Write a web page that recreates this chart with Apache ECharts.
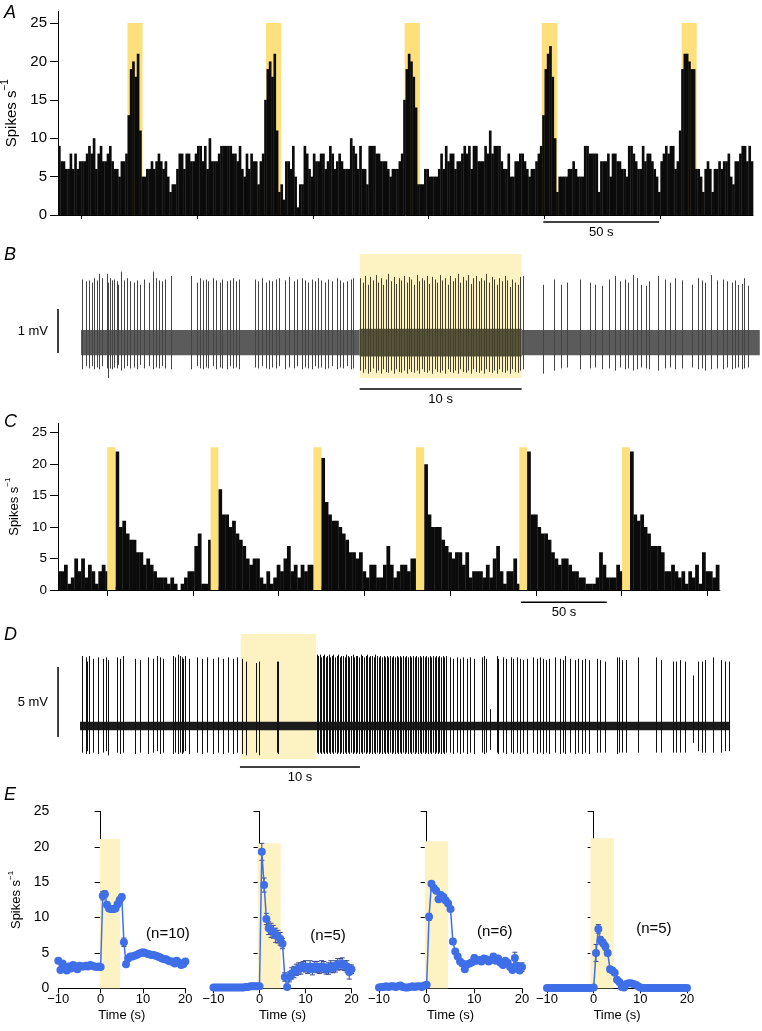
<!DOCTYPE html>
<html><head><meta charset="utf-8">
<script src="https://cdn.jsdelivr.net/npm/echarts@6/dist/echarts.min.js"></script>
<style>html,body{margin:0;padding:0;background:#fff}#c{width:762px;height:1031px}</style>
</head><body><div id="c"></div>
<script>
// ---------------- DATA ----------------
// Panel A: firing-rate histogram, 1 s bins (spikes/s)
const binA = 1, startA = 0;
const histA = [
9,7,7,6,6,8,6,8,6,7, 7,7,8,9,8,10,6,8,9,7, 7,8,9,7,6,6,5,7,7,8,
13,19,20,18,21,11,5,5,6,6, 7,6,7,8,7,6,7,5,3,4, 4,6,8,8,6,8,8,7,7,8,
9,9,7,9,6,10,7,7,7,8, 9,9,9,9,9,8,8,7,9,6, 5,8,6,8,7,7,4,7,8,15,
19,20,18,21,11,3,4,2,7,7, 6,9,5,1,4,4,9,8,6,5, 8,7,7,8,8,6,7,9,8,6,
7,8,7,6,6,6,10,9,8,6, 9,6,6,4,9,9,9,8,8,7, 7,7,6,5,6,6,6,7,8,15,
19,21,20,18,14,4,4,4,6,6, 5,5,5,5,6,8,6,9,7,8, 8,6,7,7,8,9,8,9,6,9,
9,7,7,7,9,8,11,8,9,9, 9,7,6,6,8,5,5,7,7,8, 8,7,6,5,6,6,7,8,9,13,
19,21,22,18,10,3,5,5,5,5, 6,6,7,6,5,5,5,9,9,8, 8,8,8,3,7,7,7,8,5,8,
8,7,7,6,6,5,9,9,8,7, 6,6,9,7,8,8,7,6,5,3, 7,8,9,8,9,9,6,7,11,19,
21,21,20,19,19,6,6,5,3,6, 7,6,3,6,6,7,6,7,7,8, 5,4,7,7,8,9,9,7,9,7
];
const bandsA = [[30,36.5],[89.8,96.3],[149.6,156.2],[208.8,215.5],[269.2,275.7]];
const bandTopA = 25;
const ticksAx = [10,60,110,160,210,260];
const ticksY = [0,5,10,15,20,25];

// Panel C: firing-rate histogram, 2 s bins
const binC = 2, startC = -0.5;
const histC = [
3,3,4,1,2,5,3,5,2,4, 3,1,3,4,3,0.5,0.5,22,10,11, 9,8,8,6,6,4,5,4,3,2,
2,2,1,2,1,0,1,2,3,3, 7,9,1,1,8,0.5,0.5,16,12,12, 10,11,9,8,7,5,4,5,5,2,
1,3,1,2,4,3,5,7,3,4, 2,4,3,4,4,0.5,0.5,21,14,12, 11,11,10,9,8,6,6,5,6,3,
2,4,4,2,2,4,7,4,2,3, 4,4,3,5,5,0.5,0.5,20,12,10, 10,10,8,7,6,5,6,6,4,6,
2,3,3,3,2,4,2,5,7,3, 1,3,3,5,1,0.5,0.5,22,12,12, 10,9,9,8,6,5,4,5,5,4,
3,3,2,2,1,1,1,2,6,4, 2,2,2,4,3,0.5,0.5,22,12,11, 12,10,9,7,7,7,6,3,3,4,
3,2,3,1,3,2,4,1,6,3, 3,2,4
];
const bandsC = [[28.7,33.5],[89,93.5],[148.9,153.5],[208.7,213.5],[269,273.5],[328.9,333.5]];
const bandTopC = 22.7;
const ticksCx = [28.7,78.7,128.7,178.7,228.7,278.7,328.7,378.7];

// Panel B: extracellular trace (mV), spikes [time s, peak, trough]
const traceB = [0, 41.9];
const noiseB = [-0.3, 0.27];
const bandB = [17.2, 27.2, -0.82, 2.0];
const spikesB = [
[0.04,1.42,-0.62],[0.29,1.38,-0.55],[0.51,1.40,-0.60],[0.68,1.35,-0.55],[0.82,1.45,-0.62],[0.99,1.40,-0.58],[1.13,1.55,-0.62],[1.30,1.45,-0.55],[1.58,1.55,-0.60],[1.65,1.35,-0.82],
[1.79,1.45,-0.60],[1.93,1.40,-0.62],[2.06,1.42,-0.58],[2.20,1.38,-0.60],[2.30,1.30,-0.52],[2.47,1.60,-0.65],[2.65,1.40,-0.60],[2.82,1.45,-0.55],[3.02,1.38,-0.60],[3.29,1.35,-0.58],
[3.46,1.40,-0.62],[3.64,1.30,-0.52],[3.89,1.42,-0.60],[4.18,1.35,-0.55],[4.44,1.60,-0.62],[4.63,1.45,-0.58],[4.79,1.40,-0.60],[5.02,1.38,-0.55],[5.21,1.42,-0.60],[5.53,1.50,-0.62],
[6.79,1.50,-0.62],[7.16,1.35,-0.55],[7.37,1.45,-0.60],[7.51,1.40,-0.62],[7.70,1.42,-0.58],[7.86,1.38,-0.60],[8.13,1.45,-0.55],[8.31,1.40,-0.62],[8.58,1.35,-0.58],[8.72,1.42,-0.60],
[9.01,1.38,-0.62],[9.22,1.40,-0.55],[9.40,1.45,-0.60],[9.57,1.38,-0.58],[9.73,1.42,-0.62],
[10.72,1.42,-0.58],[10.95,1.38,-0.60],[11.15,1.45,-0.55],[11.40,1.35,-0.60],[11.63,1.40,-0.62],[11.81,1.38,-0.58],[12.06,1.42,-0.60],[12.24,1.45,-0.55],[12.59,1.40,-0.62],[12.86,1.48,-0.58],
[13.15,1.38,-0.60],[13.31,1.42,-0.55],[13.62,1.45,-0.62],[13.85,1.40,-0.58],[13.99,1.35,-0.60],[14.26,1.42,-0.62],[14.42,1.38,-0.55],[14.61,1.45,-0.60],[14.81,1.40,-0.58],[15.06,1.35,-0.62],
[15.27,1.42,-0.60],[15.47,1.38,-0.55],[15.78,1.45,-0.62],[15.99,1.40,-0.58],[16.15,1.35,-0.60],[16.40,1.38,-0.55],[16.65,1.42,-0.62],[16.81,1.45,-0.60],
[17.25,1.45,-0.65],[17.42,1.35,-0.70],[17.55,1.50,-0.62],[17.72,1.30,-0.72],[17.86,1.48,-0.68],[18.05,1.40,-0.60],[18.20,1.52,-0.70],[18.33,1.35,-0.65],[18.50,1.45,-0.72],[18.66,1.30,-0.62],
[18.80,1.42,-0.68],[18.98,1.55,-0.70],[19.12,1.38,-0.65],[19.30,1.48,-0.72],[19.45,1.32,-0.62],[19.60,1.45,-0.68],[19.78,1.40,-0.70],[19.92,1.50,-0.65],[20.10,1.35,-0.72],[20.24,1.48,-0.62],
[20.40,1.42,-0.68],[20.55,1.30,-0.70],[20.72,1.52,-0.65],[20.88,1.38,-0.72],[21.02,1.45,-0.62],[21.20,1.40,-0.68],[21.35,1.50,-0.70],[21.50,1.32,-0.65],[21.68,1.48,-0.72],[21.84,1.42,-0.62],
[22.00,1.35,-0.68],[22.15,1.52,-0.70],[22.30,1.40,-0.65],[22.48,1.45,-0.72],[22.63,1.30,-0.62],[22.80,1.50,-0.68],[22.95,1.38,-0.70],[23.10,1.45,-0.65],[23.28,1.55,-0.72],[23.42,1.35,-0.62],
[23.60,1.48,-0.68],[23.75,1.40,-0.70],[23.90,1.52,-0.65],[24.08,1.32,-0.72],[24.22,1.45,-0.62],[24.40,1.50,-0.68],[24.55,1.38,-0.70],[24.70,1.45,-0.65],[24.88,1.40,-0.72],[25.02,1.55,-0.62],
[25.20,1.35,-0.68],[25.35,1.48,-0.70],[25.50,1.42,-0.65],[25.68,1.30,-0.72],[25.82,1.45,-0.62],[26.00,1.38,-0.68],[26.15,1.50,-0.70],[26.30,1.40,-0.65],[26.48,1.25,-0.72],[26.62,1.42,-0.62],
[26.80,1.35,-0.68],[26.95,1.30,-0.70],[27.12,1.48,-0.65],
[27.31,1.50,-0.62],[28.54,1.30,-0.72],[29.22,1.42,-0.65],[29.61,1.30,-0.60],[29.98,1.35,-0.58],[30.80,1.42,-0.62],[31.42,1.35,-0.60],[31.73,1.30,-0.58],[32.18,1.28,-0.62],[32.57,1.42,-0.60],
[32.96,1.50,-0.65],[33.27,1.38,-0.58],[33.58,1.42,-0.62],[33.79,1.35,-0.60],[34.05,1.52,-0.65],[34.30,1.45,-0.62],[34.55,1.30,-0.58],[34.86,1.28,-0.60],[35.08,1.38,-0.62],[35.64,1.50,-0.65],
[36.05,1.42,-0.60],[36.36,1.35,-0.58],[36.67,1.45,-0.62],[37.08,1.40,-0.60],[37.70,1.30,-0.58],[38.11,1.45,-0.62],[38.31,1.40,-0.60],[38.52,1.35,-0.65],[38.89,1.52,-0.62],[39.28,1.40,-0.60],
[39.65,1.42,-0.62],[39.86,1.38,-0.58],[40.17,1.35,-0.62],[40.37,1.40,-0.60],[40.57,1.30,-0.58],[40.78,1.32,-0.62],[40.95,1.45,-0.60],[41.19,1.28,-0.58]
];

// Panel D: intracellular-like trace (mV), spikes [time s, peak, trough]
const traceD = [0, 54.17];
const noiseD = [-0.3, 0.3];
const bandD = [13.39, 19.67, -2.36, 6.57];
const spikesD = [
[0.14,5.0,-1.9],[0.50,4.9,-2.0],[0.61,4.6,-1.8],[0.78,5.0,-2.0],[1.11,4.8,-1.9],[1.47,4.9,-2.0],[1.94,4.8,-1.9],[2.17,4.9,-1.8],[2.36,4.7,-2.1],[3.11,4.9,-1.9],
[3.33,4.8,-2.0],[3.56,5.0,-1.9],[4.58,4.8,-2.0],[5.00,4.7,-1.9],[5.69,4.9,-2.0],[6.11,4.8,-1.9],[6.39,5.0,-1.8],[6.67,4.9,-2.0],[6.89,4.8,-1.9],[7.72,5.0,-2.0],
[7.92,4.9,-1.9],[8.19,5.1,-2.0],[8.33,5.0,-1.9],[8.47,4.9,-2.0],[8.61,4.8,-1.9],[8.75,5.0,-1.8],[9.11,4.8,-2.0],[9.72,4.9,-1.9],[10.14,4.8,-2.0],[10.56,4.9,-1.9],
[11.11,4.8,-2.0],[11.53,4.9,-1.9],[11.89,4.8,-2.0],[12.36,4.9,-1.9],[12.78,4.8,-2.0],[13.11,4.9,-1.9],[13.47,4.8,-2.0],
[13.81,4.6,-2.1],[14.67,4.5,-1.9],[14.94,4.6,-2.1],[16.39,4.6,-1.9],[16.53,4.6,-2.0],
[19.72,5.1,-1.9],[19.85,5.0,-2.0],[19.98,5.1,-1.9],[20.10,4.9,-2.0],[20.21,5.0,-1.9],[20.36,5.1,-2.0],[20.48,4.9,-1.9],[20.62,5.0,-2.0],[20.74,5.1,-1.9],[20.83,4.9,-2.0],
[20.97,5.0,-1.9],[21.12,5.1,-2.0],[21.25,4.9,-1.9],[21.38,5.0,-2.0],[21.50,5.1,-1.9],[21.66,4.9,-2.0],[21.78,5.0,-1.9],[21.90,5.0,-2.0],[22.05,4.9,-1.9],[22.18,5.1,-2.0],
[22.30,5.0,-1.9],[22.44,4.9,-2.0],[22.60,5.0,-1.9],[22.72,5.1,-2.0],[22.86,4.9,-1.9],[22.98,5.0,-2.0],[23.12,5.0,-1.9],[23.27,4.9,-2.0],[23.40,5.1,-1.9],[23.52,5.0,-2.0],
[23.68,4.9,-1.9],[23.80,5.0,-2.0],[23.93,5.1,-1.9],[24.08,4.9,-2.0],[24.20,5.0,-1.9],[24.35,5.0,-2.0],[24.48,4.9,-1.9],[24.62,5.1,-2.0],[24.75,5.0,-1.9],[24.90,4.9,-2.0],
[25.02,5.0,-1.9],[25.16,4.9,-2.0],[25.30,5.0,-1.9],[25.42,4.9,-2.0],[25.58,5.0,-1.9],[25.70,4.9,-2.0],[25.84,5.0,-1.9],[25.97,4.9,-2.0],[26.10,5.0,-1.9],[26.26,4.9,-2.0],
[26.38,5.0,-1.9],[26.52,4.9,-2.0],[26.66,5.0,-1.9],[26.78,4.9,-2.0],[26.92,5.0,-1.9],[27.06,4.9,-2.0],[27.20,5.0,-1.9],[27.34,4.9,-2.0],[27.46,5.0,-1.9],[27.60,4.9,-2.0],
[27.75,5.0,-1.9],[27.88,4.9,-2.0],[28.02,5.0,-1.9],[28.16,4.9,-2.0],[28.30,5.0,-1.9],[28.44,4.9,-2.0],[28.56,5.0,-1.9],[28.72,4.9,-2.0],[28.86,5.0,-1.9],[29.00,4.9,-2.0],
[29.14,5.0,-1.9],[29.26,4.9,-2.0],[29.40,5.0,-1.9],[29.55,4.9,-2.0],[29.68,5.0,-1.9],[29.80,4.9,-2.0],[29.95,5.0,-1.9],[30.08,4.9,-2.0],[30.22,5.0,-1.9],[30.36,4.9,-2.0],
[30.50,5.0,-1.9],
[30.83,4.9,-1.9],[31.11,4.8,-2.0],[31.39,4.9,-1.9],[31.67,4.8,-2.0],[31.94,4.9,-1.9],[32.28,4.8,-2.0],[32.50,4.9,-1.9],[32.83,4.8,-2.0],[33.47,4.9,-1.9],[33.67,5.0,-2.0],
[33.83,4.8,-1.9],[34.17,1.2,-1.7],[34.72,5.0,-1.9],[34.86,4.8,-2.0],[35.28,4.9,-1.9],[35.50,4.8,-2.0],[35.89,4.9,-1.9],[36.11,4.8,-2.0],[36.39,4.9,-1.9],[36.67,4.8,-2.0],
[36.94,4.7,-1.9],[37.22,4.8,-2.0],[37.78,4.9,-1.9],[38.06,4.8,-2.0],[38.33,4.9,-1.9],[38.61,4.8,-2.0],[38.81,4.7,-1.9],[39.08,4.8,-2.0],[39.58,4.9,-1.9],[40.00,4.8,-2.0],
[40.22,4.7,-1.9],[40.42,5.0,-2.0],[40.83,4.8,-1.9],[41.25,4.7,-2.0],[41.53,4.8,-1.9],[41.81,4.7,-2.0],[42.08,4.8,-1.9],[42.44,4.7,-2.0],[43.06,4.8,-1.9],[43.33,4.7,-1.9],
[43.75,4.6,-1.9],[44.72,4.9,-2.0],[44.94,4.9,-1.9],[45.14,4.7,-1.9],[45.47,4.7,-1.9],[46.47,4.9,-1.9],[48.00,4.9,-1.9],[48.42,4.7,-1.9],[49.39,4.6,-1.9],[49.64,4.6,-1.9],
[50.00,4.7,-1.9],[50.42,4.6,-1.9],[51.11,3.6,-1.2],[51.53,4.6,-1.8],[51.81,4.6,-1.9],[52.08,4.7,-1.9],[52.72,4.9,-1.9],[53.39,4.7,-1.9],[53.75,4.6,-1.8],[54.11,4.6,-1.8]
];

// Panel E: mean rate (spikes/s) in 0.5 s bins, +/- error
const timesE = [-10,-9.5,-9,-8.5,-8,-7.5,-7,-6.5,-6,-5.5,-5,-4.5,-4,-3.5,-3,-2.5,-2,-1.5,-1,-0.5,
0,0.5,1,1.5,2,2.5,3,3.5,4,4.5,5,5.5,6,6.5,7,7.5,8,8.5,9,9.5,10,10.5,11,11.5,12,12.5,13,13.5,14,14.5,15,15.5,16,16.5,17,17.5,18,18.5,19,19.5,20];
const e1 = [3.9,2.6,3.5,3.1,2.5,3.1,2.8,3.3,3.1,2.7, 3.2,3.1,3.1,3.2,3.1,3.3,3.2,3.1,3.0,3.1, 3.0,
13.1,13.3,11.8,11.3,11.2,11.2,11.3,11.9,12.5,12.9, 6.5,3.4,4.2,4.5,4.5,4.6,4.7,4.9,5.0,5.1,
5.0,4.9,4.8,4.7,4.7,4.6,4.5,4.4,4.2,4.1, 4.1,3.9,3.8,3.8,3.5,3.9,3.6,3.3,3.4,3.8];
const e1err = [0.3,0.3,0.3,0.3,0.3,0.3,0.3,0.3,0.3,0.3, 0.3,0.3,0.3,0.3,0.3,0.3,0.3,0.3,0.3,0.3, 0.3,
0.6,0.5,0.4,0.4,0.4,0.4,0.4,0.4,0.4,0.4, 0.6,0.3,0.3,0.3,0.3,0.3,0.3,0.3,0.3,0.3,
0.3,0.3,0.3,0.3,0.3,0.3,0.3,0.3,0.3,0.3, 0.3,0.3,0.3,0.3,0.3,0.3,0.3,0.3,0.3,0.3];
const e2 = [0.1,0.1,0.1,0.1,0.1,0.1,0.1,0.1,0.1,0.1, 0.1,0.1,0.1,0.1,0.2,0.2,0.3,0.3,0.3,0.3, 0.3,
19.3,14.6,9.8,8.5,8.2,8.0,7.5,7.3,7.0,6.3, 1.6,0.2,1.6,2.1,2.3,2.6,2.8,2.8,3.1,3.1,
2.8,3.1,2.7,3.1,3.0,2.8,3.1,3.0,2.7,2.8, 3.1,2.9,3.1,3.4,3.4,3.5,3.2,3.1,2.3,2.7];
const e2err = [0.05,0.05,0.05,0.05,0.05,0.05,0.05,0.05,0.05,0.05, 0.05,0.05,0.05,0.05,0.1,0.1,0.1,0.1,0.1,0.1, 0.2,
1.2,1.0,0.8,0.9,1.0,0.9,1.0,0.9,0.9,0.7, 0.6,0.3,0.7,0.8,0.8,0.8,0.8,0.8,0.7,0.8,
0.7,0.8,0.8,0.7,0.8,0.7,0.8,0.8,0.7,0.8, 0.8,0.7,0.8,0.8,0.8,0.8,0.7,0.8,1.0,0.6];
const e3 = [0.1,0.2,0.2,0.3,0.2,0.3,0.3,0.2,0.3,0.4, 0.2,0.1,0.1,0.2,0.3,0.2,0.3,0.3,0.2,0.4, 0.5,
10.1,14.8,14.2,13.8,12.6,13.2,12.9,12.4,12.0,11.2, 6.6,5.2,4.5,3.8,3.5,2.7,3.4,3.5,3.7,4.3,
3.9,4.0,3.8,4.2,4.1,3.8,4.0,4.5,3.9,4.2, 3.6,3.3,3.9,3.6,3.0,2.6,4.3,3.2,2.5,3.0];
const e3err = [0.05,0.05,0.05,0.05,0.05,0.05,0.05,0.05,0.05,0.05, 0.05,0.05,0.05,0.05,0.05,0.05,0.05,0.05,0.05,0.05, 0.1,
0.5,0.3,0.3,0.3,0.3,0.3,0.3,0.3,0.3,0.3, 0.4,0.3,0.3,0.3,0.3,0.3,0.3,0.3,0.3,0.4,
0.3,0.3,0.3,0.3,0.3,0.3,0.3,0.4,0.3,0.3, 0.3,0.3,0.3,0.3,0.3,0.3,0.8,0.4,0.4,0.6];
const e4 = [0.05,0.05,0.05,0.05,0.05,0.05,0.05,0.05,0.05,0.05, 0.05,0.05,0.05,0.05,0.05,0.05,0.05,0.05,0.05,0.05, 0.1,
5.0,8.4,6.8,6.4,5.9,5.0,2.7,2.5,2.2,1.2, 0.9,0.2,0.1,0.6,0.7,0.7,0.6,0.5,0.3,0.1,
0.05,0.05,0.05,0.05,0.05,0.05,0.05,0.05,0.05,0.05, 0.05,0.05,0.05,0.05,0.05,0.05,0.05,0.05,0.05,0.05];
const e4err = [0.05,0.05,0.05,0.05,0.05,0.05,0.05,0.05,0.05,0.05, 0.05,0.05,0.05,0.05,0.05,0.05,0.05,0.05,0.05,0.05, 0.1,
1.2,0.6,0.5,0.5,0.5,0.4,0.4,0.3,0.3,0.2, 0.2,0.1,0.1,0.2,0.2,0.2,0.2,0.1,0.1,0.1,
0.05,0.05,0.05,0.05,0.05,0.05,0.05,0.05,0.05,0.05, 0.05,0.05,0.05,0.05,0.05,0.05,0.05,0.05,0.05,0.05];
const bandsE = [[-0.2,4.6,21.1],[-0.4,4.6,20.5],[-0.4,4.5,20.8],[-0.7,4.3,21.2]];
const nLabels = ['(n=10)','(n=5)','(n=6)','(n=5)'];
const ticksEx = ['−10','0','10','20'];

// Annotations: scale bars (data units of each panel)
const scaleA = {bar:[209.5,-0.9,259.5,-0.9], text:'50 s'};
const scaleC = {bar:[270,-1.96,320,-1.96], text:'50 s'};
const scaleB = {bar:[17.2,-1.07,27.2,-1.07], text:'10 s'};
const scaleBv = {bar:[-1.42,-0.25,-1.42,0.75], text:'1 mV'};
const scaleD = {bar:[13.33,-2.93,23.33,-2.93], text:'10 s'};
const scaleDv = {bar:[-1.83,-0.79,-1.83,4.21], text:'5 mV'};
const nLabelPos = [[15.9,7.7],[14.9,7.4],[14.3,8.0],[12.9,8.4]];

// ---------------- STYLE / LAYOUT ----------------
const FONT = '"Liberation Sans", Arial, Helvetica, sans-serif';
const BAR = '#0b0b0b', YEL = '#fde07c', PALE = '#fdf2c2', BLUE = '#3f6fe8';
const grids = [
  {left:58, top:11.5, width:695, height:203.5},     // A
  {left:32.4, top:249.6, width:729, height:154},    // B
  {left:58, top:423.3, width:662, height:166.7},    // C
  {left:32, top:628, width:708, height:161},        // D
  {left:58.3, top:811.5, width:127, height:176.8},  // E1
  {left:213.5, top:811.5, width:138, height:176.8}, // E2
  {left:379, top:811.5, width:143, height:176.8},   // E3
  {left:547, top:811.5, width:140, height:176.8}    // E4
].map(g => Object.assign({outerBoundsMode:'none', containLabel:false}, g));

const axLine = {show:true, lineStyle:{color:'#000', width:1}};
function supName(fs) {
  return {
    name: '{b|Spikes s}{s|−1}', nameLocation:'middle', nameRotate:90,
    nameTextStyle:{rich:{
      b:{fontSize:fs, fontFamily:FONT, color:'#000', lineHeight:fs+4, verticalAlign:'bottom'},
      s:{fontSize:Math.round(fs*0.65), fontFamily:FONT, color:'#000', lineHeight:fs+4, verticalAlign:'top'}
    }}
  };
}
const xAxes = [
  {gridIndex:0, type:'value', min:0, max:300, axisLine:axLine, splitLine:{show:false},
   axisTick:{show:true, length:4, customValues:ticksAx, lineStyle:{color:'#000'}}, axisLabel:{show:false}},
  {gridIndex:1, type:'value', min:-3, max:42, show:false},
  {gridIndex:2, type:'value', min:0, max:386, axisLine:axLine, splitLine:{show:false},
   axisTick:{show:true, length:6, customValues:ticksCx, lineStyle:{color:'#000'}}, axisLabel:{show:false}},
  {gridIndex:3, type:'value', min:-4, max:55, show:false}
];
const yAxes = [
  Object.assign({gridIndex:0, type:'value', min:0, max:26.5, axisLine:axLine, splitLine:{show:false},
   axisTick:{show:true, length:8, customValues:ticksY, lineStyle:{color:'#000'}},
   axisLabel:{customValues:ticksY, fontSize:15, fontFamily:FONT, color:'#000', margin:11}, nameGap:34}, supName(15)),
  {gridIndex:1, type:'value', min:-1.4, max:2.1, show:false},
  Object.assign({gridIndex:2, type:'value', min:0, max:26.5, axisLine:axLine, splitLine:{show:false},
   axisTick:{show:true, length:8, customValues:ticksY, lineStyle:{color:'#000'}},
   axisLabel:{customValues:ticksY, fontSize:13.5, fontFamily:FONT, color:'#000', margin:11}, nameGap:37}, supName(13)),
  {gridIndex:3, type:'value', min:-4.5, max:7, show:false}
];
for (let k = 0; k < 4; k++) {
  xAxes.push({gridIndex:4+k, type:'value', min:-10, max:20, interval:10, axisLine:axLine, splitLine:{show:false},
    axisTick:{show:true, length:5, lineStyle:{color:'#000'}},
    axisLabel:{fontSize:13, fontFamily:FONT, color:'#000', margin:5, formatter:v => ticksEx[(v+10)/10]},
    name:'Time (s)', nameLocation:'middle', nameGap:21, nameTextStyle:{fontSize:13, fontFamily:FONT, color:'#000'}});
  const ya = {gridIndex:4+k, type:'value', min:0, max:25, interval:5, axisLine:axLine, splitLine:{show:false},
    axisTick:{show:true, length:6, lineStyle:{color:'#000'}},
    axisLabel:{show:k===0, fontSize:14, fontFamily:FONT, color:'#000', margin:9}};
  if (k === 0) Object.assign(ya, supName(13), {nameGap:35});
  yAxes.push(ya);
}

// ---------------- RENDERERS ----------------
function rectItem(fill, extraW) {
  return function (params, api) {
    const p = api.coord([api.value(0), api.value(3)]);
    const q = api.coord([api.value(1), api.value(2)]);
    return {type:'rect', shape:{x:p[0], y:p[1], width:q[0]-p[0]+(extraW||0), height:q[1]-p[1]}, style:{fill}};
  };
}
function custom(ax, data, renderItem, z, extra) {
  return Object.assign({type:'custom', coordinateSystem:'cartesian2d', xAxisIndex:ax, yAxisIndex:ax,
    data, renderItem, z, silent:true, animation:false}, extra||{});
}
function spikeItem(colorFn) {
  return function (params, api) {
    const t = api.value(0);
    const p = api.coord([t, api.value(1)]);
    const q = api.coord([t, api.value(2)]);
    const x = Math.round(p[0]) + 0.5;
    return {type:'line', shape:{x1:x, y1:p[1], x2:x, y2:q[1]}, style:{stroke:colorFn(t), lineWidth:1}};
  };
}
function segItem(width) {
  return function (params, api) {
    const p = api.coord([api.value(0), api.value(1)]);
    const q = api.coord([api.value(2), api.value(3)]);
    return {type:'line', shape:{x1:p[0], y1:p[1], x2:q[0], y2:q[1]}, style:{stroke:'#000', lineWidth:width}};
  };
}
function scaleSeries(ax, sb, vertical) {
  return custom(ax, [sb.bar], function (params, api) {
    const p = api.coord([api.value(0), api.value(1)]);
    const q = api.coord([api.value(2), api.value(3)]);
    const line = {type:'line', shape:{x1:p[0], y1:p[1], x2:q[0], y2:q[1]}, style:{stroke:'#000', lineWidth:1.5}};
    const txt = vertical
      ? {type:'text', x:p[0]-10, y:(p[1]+q[1])/2, style:{text:sb.text, fontSize:13, fontFamily:FONT, fill:'#000', align:'right', verticalAlign:'middle'}}
      : {type:'text', x:(p[0]+q[0])/2, y:p[1]+4, style:{text:sb.text, fontSize:13, fontFamily:FONT, fill:'#000', align:'center', verticalAlign:'top'}};
    return {type:'group', children:[line, txt]};
  }, 10);
}
function errItem(params, api) {
  const t = api.value(0);
  const a = api.coord([t, api.value(1)]);
  const b = api.coord([t, api.value(2)]);
  const st = {stroke:'#34488a', lineWidth:1};
  return {type:'group', children:[
    {type:'line', shape:{x1:a[0], y1:a[1], x2:b[0], y2:b[1]}, style:st},
    {type:'line', shape:{x1:a[0]-2.5, y1:a[1], x2:a[0]+2.5, y2:a[1]}, style:st},
    {type:'line', shape:{x1:b[0]-2.5, y1:b[1], x2:b[0]+2.5, y2:b[1]}, style:st}
  ]};
}

// ---------------- SERIES ----------------
const series = [];
// A
series.push(custom(0, bandsA.map(b => [b[0], b[1], 0, bandTopA]), rectItem(YEL), 1));
series.push(custom(0, histA.map((v,i) => [startA+i*binA, startA+(i+1)*binA, 0, v]), rectItem(BAR, 0.35), 2));
series.push(scaleSeries(0, scaleA, false));
// B
const inBandB = t => t >= bandB[0] && t <= bandB[1];
series.push(custom(1, [[bandB[0], bandB[1], bandB[2], bandB[3]]], rectItem(PALE), 1));
series.push(custom(1, [[traceB[0], bandB[0], noiseB[0], noiseB[1]], [bandB[1], traceB[1], noiseB[0], noiseB[1]]], rectItem('#5b5b5b'), 2));
series.push(custom(1, [[bandB[0], bandB[1], noiseB[0]-0.03, noiseB[1]+0.03]], rectItem('#56533a'), 2));
series.push(custom(1, spikesB, spikeItem(t => inBandB(t) ? '#45422b' : '#454545'), 3));
series.push(scaleSeries(1, scaleB, false));
series.push(scaleSeries(1, scaleBv, true));
// C
series.push(custom(2, histC.map((v,i) => [startC+i*binC, startC+(i+1)*binC, 0, v]), rectItem(BAR, 0.35), 1, {clip:true}));
series.push(custom(2, bandsC.map(b => [b[0], b[1], 0, bandTopC]), rectItem(YEL), 2));
series.push(scaleSeries(2, scaleC, false));
// D
series.push(custom(3, [[bandD[0], bandD[1], bandD[2], bandD[3]]], rectItem(PALE), 1));
series.push(custom(3, [[traceD[0], traceD[1], noiseD[0], noiseD[1]]], rectItem('#1c1c1c'), 2));
series.push(custom(3, spikesD, spikeItem(() => '#111111'), 3));
series.push(scaleSeries(3, scaleD, false));
series.push(scaleSeries(3, scaleDv, true));
// E
const eVals = [e1, e2, e3, e4], eErrs = [e1err, e2err, e3err, e4err];
for (let k = 0; k < 4; k++) {
  const ax = 4 + k;
  series.push(custom(ax, [[bandsE[k][0], bandsE[k][1], 0, bandsE[k][2]]], rectItem(PALE), 1));
  series.push(custom(ax, timesE.map((t,i) => [t, eVals[k][i]-eErrs[k][i], eVals[k][i]+eErrs[k][i]]), errItem, 3));
  series.push({type:'line', xAxisIndex:ax, yAxisIndex:ax, data:timesE.map((t,i) => [t, eVals[k][i]]),
    symbol:'circle', symbolSize:8, showAllSymbol:true, z:4, silent:true, animation:false,
    lineStyle:{color:BLUE, width:1.5}, itemStyle:{color:BLUE}});
  series.push(custom(ax, [nLabelPos[k]], function (params, api) {
    const p = api.coord([api.value(0), api.value(1)]);
    return {type:'text', x:p[0], y:p[1], style:{text:nLabels[k], fontSize:15, fontFamily:FONT, fill:'#000', align:'center', verticalAlign:'middle'}};
  }, 5));
}

const letters = [['A',4],['B',246],['C',413],['D',626],['E',786]].map(([t,y]) =>
  ({type:'text', left:4, top:y, style:{text:t, font:'italic 18px '+FONT, fill:'#000'}}));

const chart = echarts.init(document.getElementById('c'), null, {renderer:'canvas'});
chart.setOption({
  backgroundColor:'#fff', animation:false,
  grid:grids, xAxis:xAxes, yAxis:yAxes, series, graphic:letters
});
</script></body></html>
